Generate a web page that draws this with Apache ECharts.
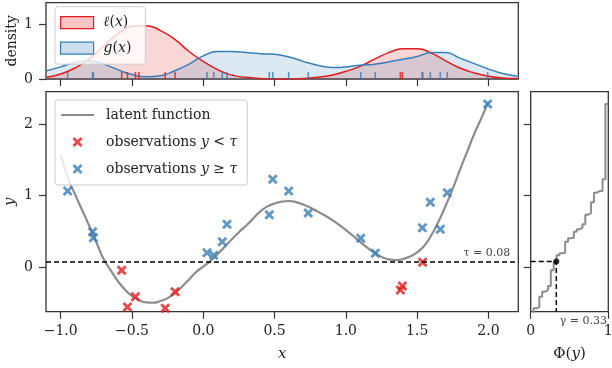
<!DOCTYPE html>
<html>
<head>
<meta charset="utf-8">
<script src="https://cdn.jsdelivr.net/npm/echarts@6/dist/echarts.min.js"></script>
<style>
  html, body { margin: 0; padding: 0; background: #fff; }
  #chart { width: 612px; height: 368px; }
</style>
</head>
<body>
<div id="chart"></div>
<script>
// latent function (gray curve)
const latentX = [-1.00, -0.95, -0.90, -0.85, -0.80, -0.75, -0.70, -0.65, -0.60, -0.55,
  -0.50, -0.45, -0.40, -0.35, -0.30, -0.25, -0.20, -0.15, -0.10, -0.05,
  0.00, 0.05, 0.10, 0.15, 0.20, 0.25, 0.30, 0.35, 0.40, 0.45,
  0.50, 0.55, 0.60, 0.65, 0.70, 0.75, 0.80, 0.85, 0.90, 0.95,
  1.00, 1.05, 1.10, 1.15, 1.20, 1.25, 1.30, 1.35, 1.40, 1.45,
  1.50, 1.55, 1.60, 1.65, 1.70, 1.75, 1.80, 1.85, 1.90, 1.95, 2.00];
const latentY = [1.57, 1.25, 1.02, 0.80, 0.58, 0.35, 0.12, -0.04, -0.19, -0.31,
  -0.40, -0.46, -0.49, -0.494, -0.47, -0.43, -0.36, -0.27, -0.17, -0.065,
  0.01, 0.085, 0.185, 0.285, 0.39, 0.49, 0.58, 0.68, 0.78, 0.85,
  0.89, 0.915, 0.925, 0.91, 0.875, 0.835, 0.78, 0.725, 0.665, 0.595,
  0.52, 0.44, 0.355, 0.275, 0.205, 0.145, 0.11, 0.10, 0.115, 0.15,
  0.21, 0.30, 0.45, 0.64, 0.86, 1.10, 1.36, 1.61, 1.86, 2.08, 2.31];

// observations below / above tau
const lowX = [-0.572, -0.532, -0.476, -0.452, -0.267, -0.198, 1.382, 1.396, 1.538];
const lowY = [-0.042, -0.554, -0.410, -0.650, -0.572, -0.340, -0.317, -0.261, 0.070];
const highX = [-0.951, -0.776, -0.771, 0.026, 0.073, 0.133, 0.166, 0.463, 0.487, 0.599,
  0.736, 1.104, 1.206, 1.536, 1.592, 1.662, 1.711, 1.994];
const highY = [1.064, 0.497, 0.413, 0.204, 0.167, 0.357, 0.600, 0.734, 1.227, 1.064,
  0.757, 0.404, 0.195, 0.553, 0.906, 0.530, 1.041, 2.278];

// densities l(x) and g(x) in the top panel
const densX = [-1.1, -1.0, -0.9, -0.8, -0.7, -0.6, -0.5, -0.4, -0.3, -0.2, -0.1, 0.0,
  0.1, 0.2, 0.3, 0.4, 0.5, 0.6, 0.7, 0.8, 0.9, 1.0, 1.1, 1.2, 1.3, 1.4, 1.5, 1.6,
  1.7, 1.8, 1.9, 2.0, 2.1, 2.2];
const densL = [0.03, 0.09, 0.20, 0.36, 0.60, 0.82, 0.96, 0.97, 0.88, 0.72, 0.50, 0.32,
  0.17, 0.07, 0.03, 0.01, 0.00, 0.00, 0.01, 0.03, 0.07, 0.14, 0.23, 0.36, 0.48, 0.55,
  0.55, 0.47, 0.33, 0.20, 0.11, 0.05, 0.02, 0.01];
const densG = [0.15, 0.22, 0.30, 0.33, 0.27, 0.17, 0.08, 0.04, 0.06, 0.15, 0.27, 0.42,
  0.50, 0.50, 0.48, 0.46, 0.45, 0.40, 0.32, 0.25, 0.21, 0.22, 0.25, 0.27, 0.31, 0.36,
  0.41, 0.48, 0.48, 0.38, 0.28, 0.18, 0.10, 0.05];

// tick labels
const xTicks = [-1.0, -0.5, 0.0, 0.5, 1.0, 1.5, 2.0];
const yTicks = [0, 1, 2];
const densTicks = [0, 1];
const phiTicks = [0, 1];

const tau = 0.08;
const gamma = 0.33;

const RED = '#e41a1c';
const BLUE = '#377eb8';
const GRAY = '#8c8c8c';
const FONT = 'DejaVu Serif';
const xMin = -1.103, xMax = 2.209;
const yMin = -0.619, yMax = 2.449;

const pairs = (xs, ys) => xs.map((x, i) => [x, ys[i]]);

// empirical cdf of all observations
const allY = lowY.concat(highY).slice().sort((a, b) => a - b);
const n = allY.length;
const ecdf = allY.map((y, i) => [i / n, y]);
ecdf.push([1, allY[n - 1]]);

const cross = 'path://M0,2L2,0L5,3L8,0L10,2L7,5L10,8L8,10L5,7L2,10L0,8L3,5Z';

const minus = v => (v < 0 ? '\u2212' : '') + Math.abs(v);
const tickStyle = { show: true, inside: false, length: 7, lineStyle: { color: '#333', width: 1.2 } };
const axisCommon = {
  type: 'value',
  nameMoveOverlap: false,
  axisLine: { show: false, onZero: false },
  splitLine: { show: false },
  axisLabel: { fontFamily: FONT, fontSize: 14, color: '#222' }
};
const ticksAt = vals => Object.assign({}, tickStyle, { customValues: vals });
const labelsAt = (vals, fmt) => Object.assign({}, axisCommon.axisLabel, { customValues: vals, margin: 13, formatter: fmt });

const chart = echarts.init(document.getElementById('chart'));

const gridCommon = { show: true, borderColor: '#333', borderWidth: 1.3, backgroundColor: 'transparent', containLabel: false, outerBoundsMode: 'none' };
const rich = {
  u: { fontFamily: FONT, fontSize: 14, color: '#222' },
  m: { fontFamily: FONT, fontSize: 14, fontStyle: 'italic', color: '#222' }
};

chart.setOption({
  animation: false,
  textStyle: { fontFamily: FONT },
  grid: [
    Object.assign({ left: 46, top: 2.7, width: 472.3, height: 76.3 }, gridCommon),
    Object.assign({ left: 46, top: 91.7, width: 472.3, height: 220 }, gridCommon),
    Object.assign({ left: 530.7, top: 91.7, width: 77.6, height: 220 }, gridCommon)
  ],
  xAxis: [
    Object.assign({}, axisCommon, {
      gridIndex: 0, min: xMin, max: xMax,
      axisTick: ticksAt(xTicks), axisLabel: { show: false }
    }),
    Object.assign({}, axisCommon, {
      gridIndex: 1, min: xMin, max: xMax,
      axisTick: ticksAt(xTicks),
      axisLabel: labelsAt(xTicks, v => (v < 0 ? '\u2212' : '') + Math.abs(v).toFixed(1)),
      name: 'x', nameLocation: 'middle', nameGap: 35,
      nameTextStyle: { fontFamily: FONT, fontSize: 15, fontStyle: 'italic', color: '#222' }
    }),
    Object.assign({}, axisCommon, {
      gridIndex: 2, min: 0, max: 1,
      axisTick: ticksAt(phiTicks),
      axisLabel: labelsAt(phiTicks, minus),
      name: '{u|\u03a6(}{m|y}{u|)}', nameLocation: 'middle', nameGap: 35,
      nameTextStyle: {
        rich: {
          u: { fontFamily: FONT, fontSize: 15, color: '#222' },
          m: { fontFamily: FONT, fontSize: 15, fontStyle: 'italic', color: '#222' }
        }
      }
    })
  ],
  yAxis: [
    Object.assign({}, axisCommon, {
      gridIndex: 0, min: 0, max: 1.387,
      axisTick: ticksAt(densTicks),
      axisLabel: labelsAt(densTicks, minus),
      name: 'density', nameLocation: 'middle', nameGap: 27, nameRotate: 90,
      nameTextStyle: { fontFamily: FONT, fontSize: 14, color: '#222' }
    }),
    Object.assign({}, axisCommon, {
      gridIndex: 1, min: yMin, max: yMax,
      axisTick: ticksAt(yTicks),
      axisLabel: labelsAt(yTicks, minus),
      name: 'y', nameLocation: 'middle', nameGap: 28, nameRotate: 90,
      nameTextStyle: { fontFamily: FONT, fontSize: 15, fontStyle: 'italic', color: '#222' }
    }),
    Object.assign({}, axisCommon, {
      gridIndex: 2, min: yMin, max: yMax,
      axisTick: ticksAt(yTicks), axisLabel: { show: false }
    })
  ],
  legend: [
    {
      orient: 'vertical', left: 55, top: 6.7,
      padding: [9, 14, 9, 5],
      itemWidth: 33, itemHeight: 12, itemGap: 11.5,
      backgroundColor: 'rgba(255,255,255,0.8)', borderColor: '#ccc', borderWidth: 1, borderRadius: 3,
      selectedMode: false,
      data: [
        { name: 'ell', icon: 'rect', itemStyle: { color: 'rgba(228,26,28,0.25)', borderColor: RED, borderWidth: 1.2 } },
        { name: 'g', icon: 'rect', itemStyle: { color: 'rgba(55,126,184,0.25)', borderColor: BLUE, borderWidth: 1.2 } }
      ],
      formatter: name => name === 'ell' ? '{m|\u2113}{u|(}{m|x}{u|)}' : '{m|g}{u|(}{m|x}{u|)}',
      textStyle: { padding: [0, 0, 0, 5], rich: rich }
    },
    {
      orient: 'vertical', left: 55, top: 100,
      padding: [8, 10, 9, 5],
      itemWidth: 33, itemHeight: 10, itemGap: 13,
      backgroundColor: 'rgba(255,255,255,0.8)', borderColor: '#ccc', borderWidth: 1, borderRadius: 3,
      selectedMode: false,
      data: [
        { name: 'latent', itemStyle: { opacity: 0 } },
        'low', 'high'
      ],
      formatter: name => ({
        latent: '{u|latent function}',
        low: '{u|observations }{m|y}{u| < }{m|\u03c4}',
        high: '{u|observations }{m|y}{u| \u2265 }{m|\u03c4}'
      })[name],
      textStyle: { padding: [0, 0, 0, 7], rich: rich }
    }
  ],
  series: [
    {
      name: 'ell', type: 'line', xAxisIndex: 0, yAxisIndex: 0,
      data: pairs(densX, densL), smooth: 0.5, symbol: 'none',
      itemStyle: { color: RED },
      lineStyle: { color: RED, width: 1.5 },
      areaStyle: { color: 'rgba(228,26,28,0.25)', origin: 'start' }
    },
    {
      name: 'g', type: 'line', xAxisIndex: 0, yAxisIndex: 0,
      data: pairs(densX, densG), smooth: 0.5, symbol: 'none',
      itemStyle: { color: BLUE },
      lineStyle: { color: BLUE, width: 1.5 },
      areaStyle: { color: 'rgba(55,126,184,0.25)', origin: 'start' }
    },
    {
      name: 'rugLow', type: 'scatter', xAxisIndex: 0, yAxisIndex: 0,
      data: lowX.map(x => [x, 0]), symbol: 'rect', symbolSize: [1.6, 7], symbolOffset: [0, -3.5],
      itemStyle: { color: RED }, z: 5
    },
    {
      name: 'rugHigh', type: 'scatter', xAxisIndex: 0, yAxisIndex: 0,
      data: highX.map(x => [x, 0]), symbol: 'rect', symbolSize: [1.6, 7], symbolOffset: [0, -3.5],
      itemStyle: { color: BLUE }, z: 5
    },
    {
      name: 'latent', type: 'line', xAxisIndex: 1, yAxisIndex: 1,
      data: pairs(latentX, latentY), smooth: 0.5, symbol: 'none',
      itemStyle: { color: GRAY },
      lineStyle: { color: GRAY, width: 2.2 },
      markLine: {
        silent: true, symbol: 'none',
        lineStyle: { color: '#000', type: [5, 3], width: 1.5 },
        label: {
          show: true, position: 'insideEndTop', formatter: '\u03c4 = 0.08',
          fontFamily: FONT, fontSize: 11, color: '#444', distance: [8, 3]
        },
        data: [{ yAxis: tau }]
      }
    },
    {
      name: 'low', type: 'scatter', xAxisIndex: 1, yAxisIndex: 1,
      data: pairs(lowX, lowY), symbol: cross, symbolSize: 10,
      itemStyle: { color: RED }, z: 4
    },
    {
      name: 'high', type: 'scatter', xAxisIndex: 1, yAxisIndex: 1,
      data: pairs(highX, highY), symbol: cross, symbolSize: 10,
      itemStyle: { color: BLUE }, z: 4
    },
    {
      name: 'ecdf', type: 'line', xAxisIndex: 2, yAxisIndex: 2,
      data: ecdf, step: 'end', symbol: 'none',
      lineStyle: { color: GRAY, width: 2 }
    },
    {
      name: 'guide', type: 'line', xAxisIndex: 2, yAxisIndex: 2,
      data: [[0, tau], [gamma, tau], [gamma, yMin]], symbol: 'none',
      lineStyle: { color: '#000', type: [5, 3], width: 1.5 }, z: 3
    },
    {
      name: 'dot', type: 'scatter', xAxisIndex: 2, yAxisIndex: 2,
      data: [[gamma, tau]], symbolSize: 6,
      itemStyle: { color: '#000' }, z: 6
    }
  ],
  graphic: [
    {
      type: 'text', right: 5, top: 316,
      style: { text: '\u03b3 = 0.33', font: '11px "DejaVu Serif"', fill: '#444' }
    }
  ]
});
</script>
</body>
</html>
